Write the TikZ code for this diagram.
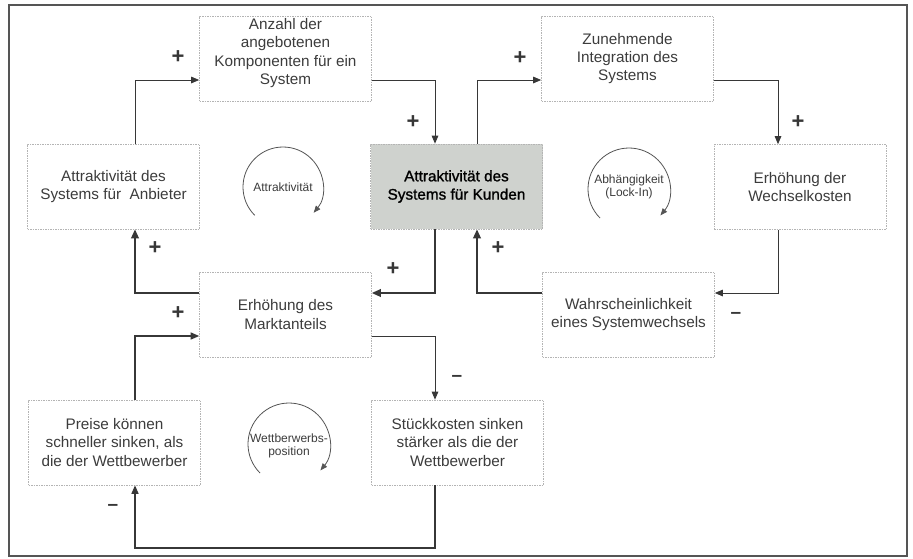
\documentclass[tikz,border=0pt]{standalone}
\usepackage{fontspec}
\setmainfont{Liberation Sans}
\newfontfamily\heavyfont[FakeBold=1.2]{Liberation Sans}
\usetikzlibrary{arrows.meta}
\definecolor{ink}{RGB}{55,55,55}
\definecolor{boxline}{RGB}{180,180,180}
\definecolor{centerfill}{RGB}{207,210,206}
\definecolor{txt}{RGB}{60,60,60}
\definecolor{framecol}{RGB}{85,85,85}
\begin{document}
\begin{tikzpicture}[x=1pt,y=-1pt,
  box/.style={draw=boxline, dash pattern=on 1.5pt off 1pt, line width=0.6pt,
    minimum width=172pt, minimum height=85pt, align=center, text=txt,
    font=\fontsize{15.3}{18.3}\selectfont, inner sep=2pt},
  centerbox/.style={box, fill=centerfill, draw=boxline, text=black,
    font=\heavyfont\fontsize{15.3}{18.3}\selectfont},
  thinarrow/.style={draw=ink, line width=0.9pt, line join=miter,
    -{Triangle[length=8pt,width=6.5pt]}},
  midarrow/.style={draw=ink, line width=1.3pt, line join=miter,
    -{Triangle[length=8.5pt,width=7pt]}},
  thickarrow/.style={draw=ink, line width=1.9pt, line join=miter,
    -{Triangle[length=9pt,width=7.5pt]}},
  sign/.style={text=ink, font=\fontsize{22}{22}\selectfont\bfseries, inner sep=0pt},
  minussign/.style={text=ink, font=\fontsize{19}{19}\selectfont\bfseries, inner sep=0pt},
  cyclelabel/.style={text=txt, align=center, font=\fontsize{12}{13.5}\selectfont, inner sep=0pt},
  cyclearrow/.style={draw=ink!85, line width=0.8pt, -{Triangle[length=7pt,width=5.5pt]}}
]
\useasboundingbox (0,0) rectangle (913,558);
\fill[white] (0,0) rectangle (913,558);
\draw[draw=framecol, line width=1.5pt] (9,5) rectangle (907,556);

% boxes
\node[box] (A) at (285.5,58.5) {Anzahl der\\angebotenen\\Komponenten für ein\\System\\[-4pt]~};
\node[box] (B) at (113.5,186.5) {Attraktivität des\\Systems für~ Anbieter};
\node[centerbox] (C) at (456.5,186.5) {Attraktivität des\\Systems für Kunden};
\node[box] (D) at (627.5,58.5) {Zunehmende\\Integration des\\Systems};
\node[box] (E) at (800,187) {Erhöhung der\\Wechselkosten};
\node[box] (F) at (285.5,314.5) {Erhöhung des\\Marktanteils};
\node[box] (G) at (628.5,314.5) {Wahrscheinlichkeit\\eines Systemwechsels};
\node[box] (H) at (114.5,442.5) {Preise können\\schneller sinken, als\\die der Wettbewerber};
\node[box] (I) at (457.5,442.5) {Stückkosten sinken\\stärker als die der\\Wettbewerber};

% routing coordinates
\coordinate (colL) at (135,0);
\coordinate (colR) at (435,0);
\coordinate (colC) at (477,0);
\coordinate (colE) at (778,0);
\coordinate (row1) at (0,80);
\coordinate (row2) at (0,293);
\coordinate (row3) at (0,336);
\coordinate (row4) at (0,548);

% connectors
\draw[thinarrow] (B.north -| colL) |- (A.west |- row1);
\draw[thinarrow] (A.east |- row1) -| (C.north -| colR);
\draw[thinarrow] (C.north -| colC) |- (D.west |- row1);
\draw[thinarrow] (D.east |- row1) -| (E.north -| colE);
\draw[thinarrow] (E.south -| colE) |- (G.east |- row2);
\draw[thickarrow] (G.west |- row2) -| (C.south -| colC);
\draw[thickarrow] (C.south -| colR) |- (F.east |- row2);
\draw[thickarrow] (F.west |- row2) -| (B.south -| colL);
\draw[thinarrow] (F.east |- row3) -| (I.north -| colR);
\draw[midarrow] (I.south -| colR) -- (colR |- row4) -- (colL |- row4) -- (H.south -| colL);
\draw[midarrow] (H.north -| colL) |- (F.west |- row3);

% signs
\node[sign] (s1) at (178,57) {+};
\node[sign] (s2) at (413,122) {+};
\node[sign] (s3) at (520,58) {+};
\node[sign] (s4) at (798,122) {+};
\node[minussign] (s5) at (736,315) {–};
\node[sign] (s6) at (498,248) {+};
\node[sign] (s7) at (393,269) {+};
\node[sign] (s8) at (155,248) {+};
\node[minussign] (s9) at (457,378) {–};
\node[minussign] (s10) at (113,507) {–};
\node[sign] (s11) at (178,313) {+};

% cycles
\node[cyclelabel] (cy1) at (283,187) {Attraktivität};
\draw[cyclearrow] (cy1.center) ++(135:40) arc[start angle=135, end angle=400, radius=40];
\node[cyclelabel] (cy2) at (629,187) {Abhängigkeit\\(Lock-In)};
\draw[cyclearrow] (629,189) ++(135:41) arc[start angle=135, end angle=400, radius=41];
\node[cyclelabel] (cy3) at (289,446) {Wettberwerbs-\\position};
\draw[cyclearrow] (289,444) ++(135:41) arc[start angle=135, end angle=400, radius=41];
\end{tikzpicture}
\end{document}
